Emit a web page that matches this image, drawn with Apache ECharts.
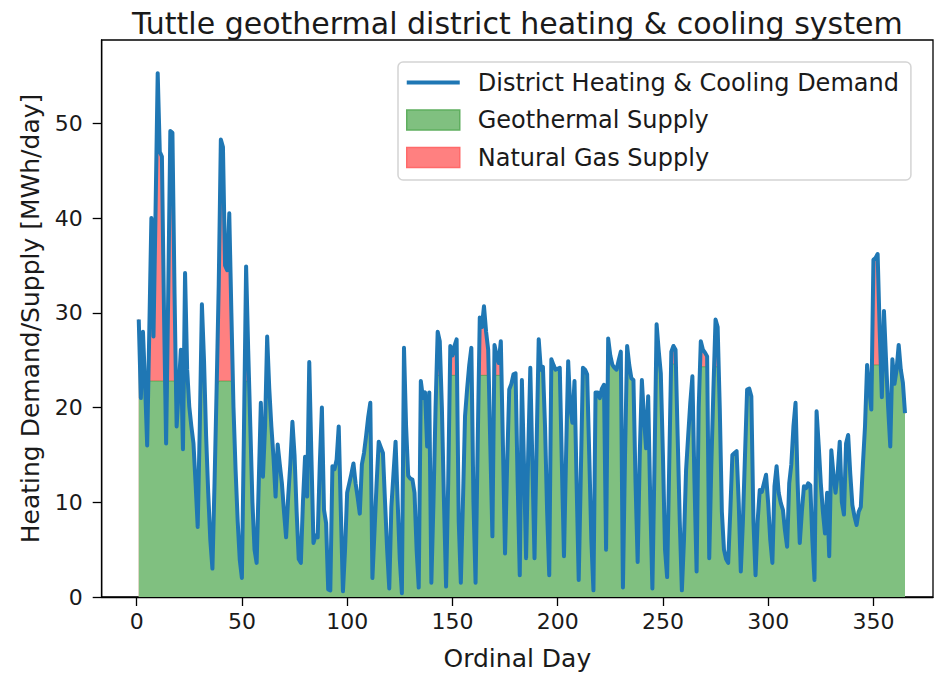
<!DOCTYPE html>
<html><head><meta charset="utf-8">
<script src="https://cdn.jsdelivr.net/npm/echarts@6/dist/echarts.min.js"></script>
<style>html,body{margin:0;padding:0;background:#fff}#c{width:935px;height:677px}</style>
</head><body><div id="c"></div>
<script>
// District heating & cooling demand, day 1..365 [MWh/day]
const demand = [
29.3,21.0,28.0,22.5,16.0,28.0,40.0,27.5,41.0,55.3,
47.0,46.5,30.0,16.2,32.0,49.2,49.0,32.0,18.0,22.0,
26.1,15.6,34.2,24.0,20.1,18.0,16.2,12.0,7.4,18.0,
30.9,25.0,17.0,11.0,6.0,3.0,12.0,22.0,33.0,48.3,
47.5,35.0,34.5,40.5,30.0,20.0,13.4,8.0,3.9,2.0,
18.0,34.9,26.0,18.0,10.0,5.0,3.6,12.0,20.5,12.7,
18.0,27.5,22.0,18.0,14.8,10.6,16.1,14.0,12.0,9.0,
6.3,10.6,14.0,18.5,15.0,9.0,4.0,3.6,10.0,14.8,
10.6,24.8,15.0,5.7,6.5,6.3,14.0,20.0,9.2,7.8,
0.8,0.7,13.8,13.5,14.5,18.0,9.0,0.6,5.0,11.0,
12.0,13.0,14.1,12.0,10.5,8.8,14.0,15.2,17.0,19.0,
20.5,2.0,7.0,12.0,16.4,15.8,15.2,10.0,5.0,0.9,
9.5,13.0,16.4,10.0,4.0,0.4,26.3,18.0,12.8,12.5,
12.4,11.0,5.0,1.0,22.8,21.0,21.6,15.9,21.6,1.5,
10.0,20.0,28.0,27.0,20.0,10.0,1.1,12.0,26.5,25.5,
26.5,27.2,8.0,1.5,10.0,19.1,22.0,24.5,26.3,10.0,
1.5,16.0,29.5,28.5,30.7,28.0,26.1,16.0,6.4,26.6,
25.5,24.7,27.0,16.0,4.6,14.0,21.9,22.5,23.5,23.6,
12.0,2.3,22.9,14.0,4.1,15.0,24.2,14.0,4.1,16.0,
27.2,24.0,24.3,18.0,9.0,2.3,25.1,24.5,24.0,24.1,
24.2,14.0,4.3,15.0,24.9,20.0,18.4,22.8,12.0,1.8,
13.0,24.2,24.0,23.5,15.0,6.0,0.7,21.6,21.6,21.0,
22.0,22.4,5.0,27.3,25.5,24.5,24.2,24.0,25.0,25.9,
1.0,15.0,26.5,24.5,23.1,22.9,12.0,3.7,15.0,22.9,
19.0,15.7,21.2,10.0,0.9,14.0,28.8,26.0,23.6,15.0,
5.0,2.1,14.0,25.9,26.5,26.1,17.0,8.0,0.7,6.0,
13.4,17.0,20.5,23.3,12.0,2.7,20.0,27.0,26.1,25.8,
25.4,4.1,14.0,22.0,29.3,28.5,20.0,9.0,5.0,4.0,
3.6,9.0,15.0,15.2,15.4,10.0,2.7,8.0,15.0,21.9,
22.0,21.2,8.0,2.3,8.0,11.3,11.1,12.0,12.9,9.9,
6.0,3.6,11.7,13.8,11.0,9.9,9.2,7.0,5.3,12.0,
14.0,18.0,20.5,12.0,5.7,9.0,11.7,11.5,12.0,11.8,
6.0,1.8,19.6,16.0,12.0,9.0,6.7,11.0,4.3,15.5,
13.0,11.0,13.0,16.4,10.0,8.7,16.2,17.1,13.0,9.7,
8.5,7.6,9.0,9.5,14.0,18.0,24.5,22.0,19.8,35.6,
35.8,36.2,28.0,21.1,30.2,25.0,20.0,15.9,25.1,22.5,
24.0,26.6,24.0,22.6,19.4
];
// Natural gas supply, day 1..365 [MWh/day]
const naturalGas = [
0,0,0,0,0,5.2,17.2,4.7,18.2,32.5,
24.2,23.7,7.2,0,9.2,26.4,26.2,9.2,0,0,
3.3,0,11.4,1.2,0,0,0,0,0,0,
8.1,2.2,0,0,0,0,0,0,10.2,25.5,
24.7,12.2,11.7,17.7,7.2,0,0,0,0,0,
0,12.1,3.2,0,0,0,0,0,0,0,
0,4.7,0,0,0,0,0,0,0,0,
0,0,0,0,0,0,0,0,0,0,
0,2.0,0,0,0,0,0,0,0,0,
0,0,0,0,0,0,0,0,0,0,
0,0,0,0,0,0,0,0,0,0,
0,0,0,0,0,0,0,0,0,0,
0,0,0,0,0,0,3.5,0,0,0,
0,0,0,0,0,0,0,0,0,0,
0,0,4.6,3.6,0,0,0,0,3.1,2.1,
3.1,3.8,0,0,0,0,0,1.1,2.9,0,
0,0,6.1,5.1,7.3,4.6,2.7,0,0,3.2,
2.1,1.3,3.6,0,0,0,0,0,0.1,0.2,
0,0,0,0,0,0,0,0,0,0,
2.6,0,0,0,0,0,0.5,0,0,0,
0,0,0,0,0.3,0,0,0,0,0,
0,0,0,0,0,0,0,0,0,0,
0,0,0,2.7,0.9,0,0,0,0.4,1.3,
0,0,1.9,0,0,0,0,0,0,0,
0,0,0,0,0,0,4.2,1.4,0,0,
0,0,0,1.3,1.9,1.5,0,0,0,0,
0,0,0,0,0,0,0,2.7,1.8,1.5,
1.1,0,0,0,5.0,4.2,0,0,0,0,
0,0,0,0,0,0,0,0,0,0,
0,0,0,0,0,0,0,0,0,0,
0,0,0,0,0,0,0,0,0,0,
0,0,0,0,0,0,0,0,0,0,
0,0,0,0,0,0,0,0,0,0,
0,0,0,0,0,0,0,0,0,0,
0,0,0,0,0,0,0,0,0,11.1,
11.3,11.7,3.5,0,5.7,0.5,0,0,0.6,0,
0,2.1,0,0,0
];
const xTicks = [0, 50, 100, 150, 200, 250, 300, 350];
const yTicks = [0, 10, 20, 30, 40, 50];
const titleText = 'Tuttle geothermal district heating & cooling system';
const xName = 'Ordinal Day';
const yName = 'Heating Demand/Supply [MWh/day]';
const names = ['District Heating & Cooling Demand', 'Geothermal Supply', 'Natural Gas Supply'];

const days = demand.map((_, i) => i + 1);
// geothermal = demand minus natural gas; the gas band is drawn as the total (geothermal + gas) under the geothermal band
const geothermal = demand.map((v, i) => +(v - naturalGas[i]).toFixed(2));
const supplyTotal = geothermal.map((v, i) => +(v + naturalGas[i]).toFixed(2));
const pairs = arr => arr.map((v, i) => [days[i], v]);

const FONT = "'DejaVu Sans', sans-serif";
const chart = echarts.init(document.getElementById('c'), null, {renderer: 'svg'});
chart.setOption({
  animation: false,
  backgroundColor: '#fff',
  title: {
    text: titleText, left: 132, top: 8, padding: 0,
    textStyle: {fontFamily: FONT, fontSize: 30, fontWeight: 'normal', color: '#1a1a1a'}
  },
  legend: {
    orient: 'vertical', left: 398, top: 62,
    padding: [8.5, 12, 10.5, 8], itemGap: 13.5, itemWidth: 53, itemHeight: 20,
    backgroundColor: 'rgba(255,255,255,0.8)', borderColor: '#d4d4d4', borderWidth: 1.5, borderRadius: 5,
    textStyle: {fontFamily: FONT, fontSize: 24, color: '#1a1a1a', padding: [0, 0, 0, 13]},
    data: [
      {name: names[0], icon: 'path://M0,0M0,8L53,8L53,12L0,12ZM53,20'},
      {name: names[1], icon: 'rect', itemStyle: {color: '#80c080', borderColor: '#5fae5f', borderWidth: 1.5}},
      {name: names[2], icon: 'rect', itemStyle: {color: '#ff8080', borderColor: '#ff6a6a', borderWidth: 1.5}}
    ]
  },
  grid: {left: 101.7, right: 2, top: 40, bottom: 80, show: true, borderColor: '#000', borderWidth: 1.3, backgroundColor: 'transparent'},
  xAxis: {
    type: 'value', min: -16.6, max: 378.3,
    name: xName, nameLocation: 'middle', nameGap: 49,
    nameTextStyle: {fontFamily: FONT, fontSize: 25, color: '#1a1a1a'},
    axisLine: {show: true, onZero: false, lineStyle: {color: '#000', width: 1.3}},
    axisTick: {show: true, length: 9, customValues: xTicks, lineStyle: {color: '#000', width: 1.3}},
    axisLabel: {customValues: xTicks, margin: 13, fontFamily: FONT, fontSize: 22, color: '#1a1a1a'},
    splitLine: {show: false}
  },
  yAxis: {
    type: 'value', min: 0, max: 58.8,
    name: yName, nameLocation: 'middle', nameGap: 59,
    nameTextStyle: {fontFamily: FONT, fontSize: 25, color: '#1a1a1a'},
    axisLine: {show: true, onZero: false, lineStyle: {color: '#000', width: 1.3}},
    axisTick: {show: true, length: 9, customValues: yTicks, lineStyle: {color: '#000', width: 1.3}},
    axisLabel: {customValues: yTicks, margin: 19, fontFamily: FONT, fontSize: 22, color: '#1a1a1a'},
    splitLine: {show: false}
  },
  series: [
    {
      name: names[2], type: 'line', data: pairs(supplyTotal),
      symbol: 'none', showSymbol: false, z: 1, color: '#ff8080',
      itemStyle: {color: '#ff8080'},
      lineStyle: {width: 1.5, color: 'rgba(255,0,0,0.5)'},
      areaStyle: {color: '#ff8080', opacity: 1, origin: 'start'}
    },
    {
      name: names[1], type: 'line', data: pairs(geothermal),
      symbol: 'none', showSymbol: false, z: 2, color: '#80c080',
      itemStyle: {color: '#80c080'},
      lineStyle: {width: 1, color: 'rgba(0,128,0,0.35)'},
      areaStyle: {color: '#80c080', opacity: 1, origin: 'start'}
    },
    {
      name: names[0], type: 'line', data: pairs(demand),
      symbol: 'none', showSymbol: false, z: 3, color: '#1f77b4',
      itemStyle: {color: '#1f77b4'},
      lineStyle: {width: 4, color: '#1f77b4', join: 'round'}
    }
  ]
});
</script>
</body></html>
